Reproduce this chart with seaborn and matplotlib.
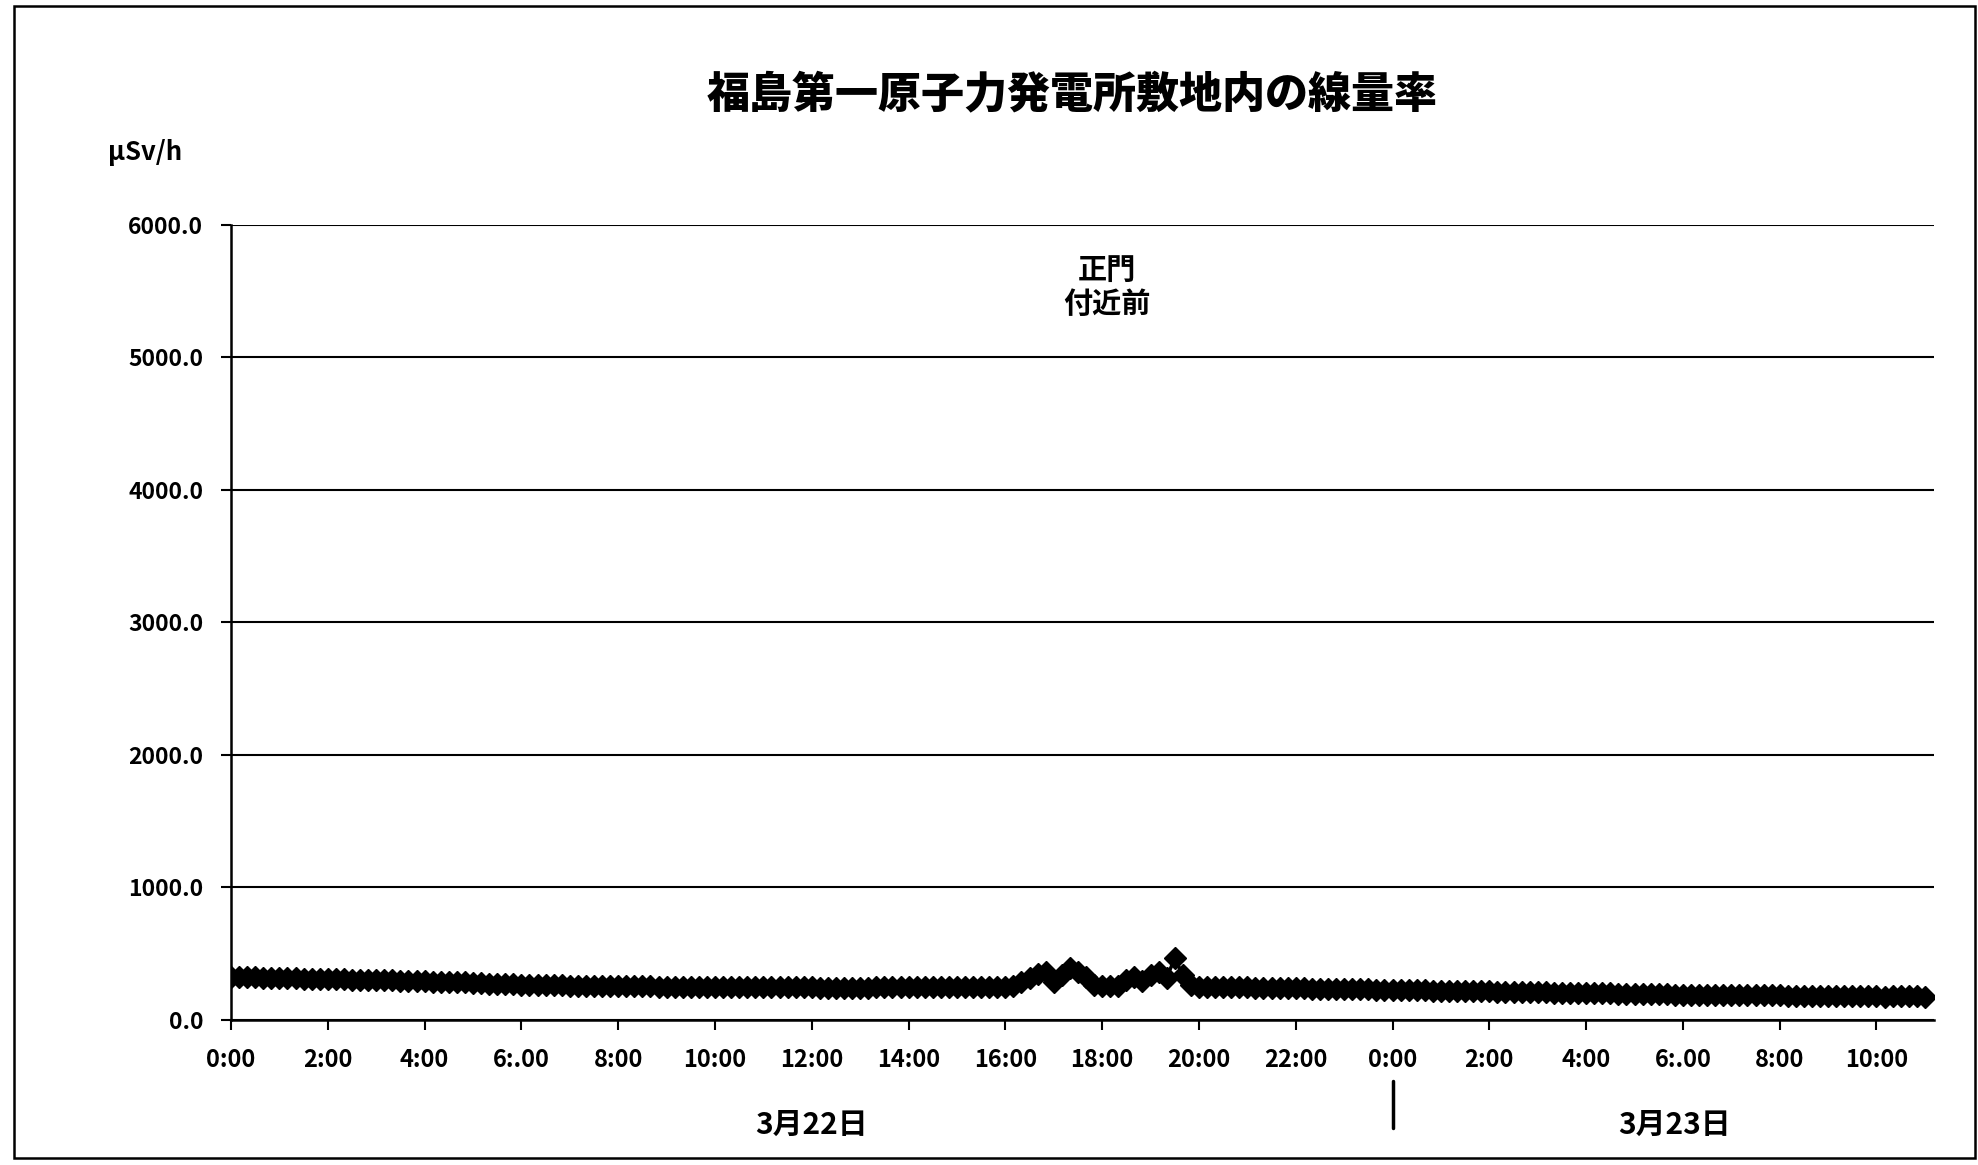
import numpy as np
import pandas as pd
import matplotlib
matplotlib.use('Agg')
import matplotlib.pyplot as plt
import matplotlib.dates as mdates
from matplotlib.patches import Rectangle
from matplotlib.ticker import FormatStrFormatter
import seaborn as sns

# --- dose rate near the main gate (uSv/h), one reading every 10 minutes ---
start_time = '2011-03-22 00:00'

rate_0322 = [
    327, 325, 323, 321, 319, 318,   # 0h
    316, 315, 313, 312, 311, 310,   # 1h
    309, 307, 306, 305, 303, 302,   # 2h
    300, 299, 298, 296, 295, 294,   # 3h
    292, 290, 289, 287, 285, 283,   # 4h
    280, 277, 274, 272, 270, 268,   # 5h
    266, 265, 264, 263, 262, 261,   # 6h
    260, 259, 258, 258, 257, 256,   # 7h
    255, 255, 254, 253, 253, 252,   # 8h
    252, 251, 250, 250, 249, 249,   # 9h
    248, 248, 247, 247, 247, 246,   # 10h
    246, 246, 245, 245, 245, 245,   # 11h
    245, 244, 244, 244, 244, 244,   # 12h
    244, 244, 245, 245, 245, 246,   # 13h
    246, 247, 247, 248, 248, 249,   # 14h
    249, 250, 250, 251, 251, 252,   # 15h
    252, 254, 285, 320, 345, 365,   # 16h
    290, 340, 390, 365, 327, 264,   # 17h
    257, 258, 260, 302, 327, 294,   # 18h
    340, 365, 320, 465, 340, 264,   # 19h
    252, 250, 249, 248, 247, 246,   # 20h
    245, 244, 243, 242, 241, 240,   # 21h
    239, 238, 237, 236, 235, 234,   # 22h
    233, 232, 231, 230, 229, 228,   # 23h
]

rate_0323 = [
    227, 226, 225, 224, 223, 222,   # 0h
    221, 220, 219, 218, 217, 216,   # 1h
    215, 214, 213, 212, 211, 210,   # 2h
    209, 208, 207, 206, 205, 204,   # 3h
    203, 202, 201, 200, 199, 198,   # 4h
    197, 196, 195, 194, 193, 192,   # 5h
    191, 190, 190, 189, 189, 188,   # 6h
    188, 187, 187, 186, 186, 185,   # 7h
    185, 184, 184, 183, 183, 182,   # 8h
    182, 181, 181, 180, 180, 180,   # 9h
    179, 172, 179, 178, 178, 178,   # 10h
    177,                            # 11h
]

time_labels = ['0:00', '2:00', '4:00', '6:.00', '8:00', '10:00', '12:00', '14:00',
               '16:00', '18:00', '20:00', '22:00', '0:00', '2:00', '4:00', '6:.00',
               '8:00', '10:00']
date_labels = ['3月22日', '3月23日']
y_ticks = [0, 1000, 2000, 3000, 4000, 5000, 6000]

title = '福島第一原子力発電所敷地内の線量率'
unit_label = 'µSv/h'
point_label = '正門\n付近前'

# --- build the frame ---
times = pd.date_range(start_time, periods=len(rate_0322) + len(rate_0323), freq='10min')
df = pd.DataFrame({'time': times, 'rate': rate_0322 + rate_0323})
t0 = pd.Timestamp(start_time)


def hx(hours):
    # hours after start -> matplotlib date number
    return mdates.date2num(t0 + pd.Timedelta(hours=hours))


# --- style ---
sns.set_theme(style='white')
plt.rcParams['font.family'] = ['Noto Sans CJK JP', 'DejaVu Sans']
plt.rcParams['font.weight'] = 'bold'

fig = plt.figure(figsize=(19.78, 11.65), dpi=100)
ax = fig.add_axes([0.1168, 0.1245, 0.861, 0.6824])

sns.lineplot(data=df, x='time', y='rate', ax=ax, color='black', linewidth=2.5,
             marker='D', markersize=11.5, markeredgecolor='black',
             markerfacecolor='black', markeredgewidth=1)

# --- axes ---
ax.set_xlim(hx(0), hx(35.19))
ax.set_ylim(0, 6000)
ax.set_yticks(y_ticks)
ax.yaxis.set_major_formatter(FormatStrFormatter('%.1f'))
tick_pos = [hx(2 * i) for i in range(len(time_labels))]
ax.set_xticks(tick_pos)
ax.set_xticklabels(time_labels)
ax.set_xlabel('')
ax.set_ylabel('')

ax.yaxis.grid(True, color='black', linewidth=1.5)
ax.xaxis.grid(False)
for side in ['top', 'right']:
    ax.spines[side].set_visible(False)
for side in ['left', 'bottom']:
    ax.spines[side].set_color('black')
    ax.spines[side].set_linewidth(1.8)

ax.tick_params(axis='y', direction='out', length=7, width=1.5, color='black',
               labelsize=16.5, pad=13, left=True)
ax.tick_params(axis='x', direction='out', length=7, width=1.5, color='black',
               labelsize=17, pad=13, bottom=True)
for lbl in ax.get_xticklabels() + ax.get_yticklabels():
    lbl.set_fontweight('bold')
    lbl.set_color('black')

# --- texts ---
fig.text(0.542, 0.918, title, ha='center', va='center', fontsize=31,
         fontweight='heavy', color='black')
fig.text(0.0733, 0.8687, unit_label, ha='center', va='center', fontsize=18.5,
         fontweight='bold', color='black')
ax.text(hx(18.1), 5532, point_label, ha='center', va='center', fontsize=21,
        fontweight='bold', linespacing=1.2, color='black')

trans = ax.get_xaxis_transform()
ax.text(hx(12), -0.132, date_labels[0], transform=trans, ha='center', va='center',
        fontsize=21.5, fontweight='bold', color='black')
ax.text(hx(29.83), -0.132, date_labels[1], transform=trans, ha='center', va='center',
        fontsize=21.5, fontweight='bold', color='black')
# day separator below the axis
ax.plot([hx(24), hx(24)], [-0.077, -0.136], transform=trans, color='black',
        linewidth=2.5, clip_on=False)

# --- outer chart border ---
fig.patches.append(Rectangle((14 / 1978, 1 - 1158 / 1165), (1975 - 14) / 1978,
                             (1158 - 6) / 1165, transform=fig.transFigure,
                             fill=False, edgecolor='black', linewidth=1.8))

fig.savefig('out.png', dpi=100)
